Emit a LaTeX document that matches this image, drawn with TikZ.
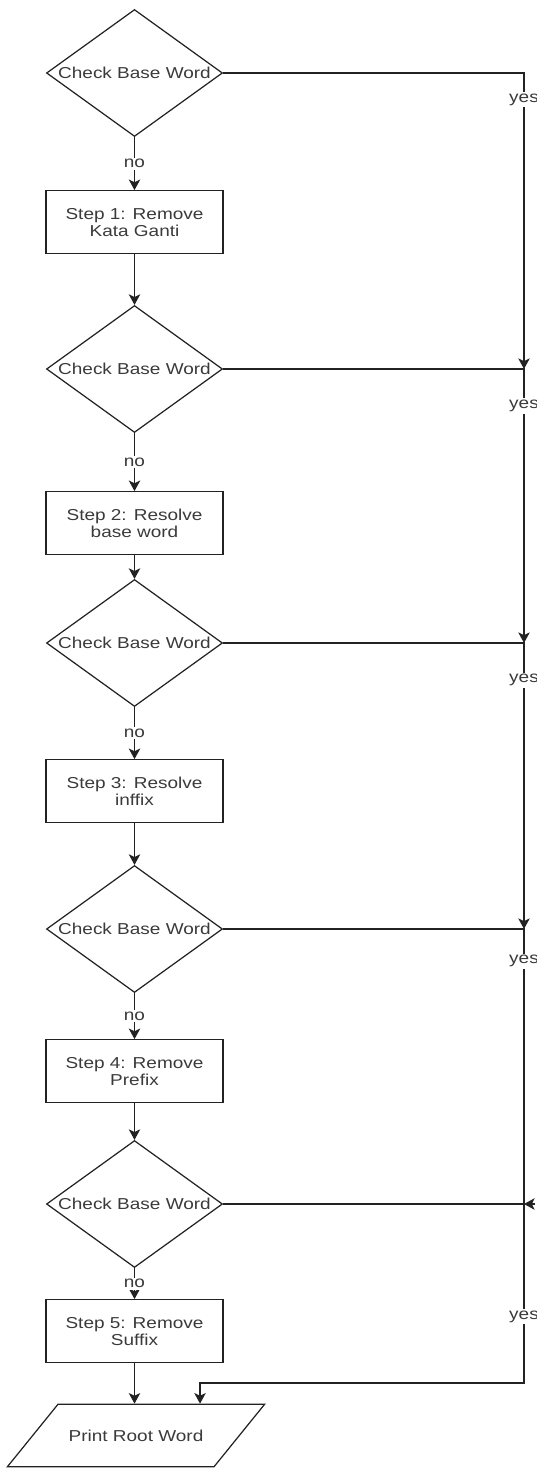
\documentclass[tikz,border=0pt]{standalone}
\usepackage{fontspec}
\setmainfont[FakeStretch=1.2]{Liberation Sans}
\usetikzlibrary{shapes.geometric, arrows.meta, positioning, calc}
\definecolor{lnclr}{HTML}{222222}
\definecolor{txclr}{HTML}{3A3A3A}
\tikzset{
  decision/.style={diamond, shape aspect=1.386, draw=lnclr, line width=0.7pt,
    inner sep=0pt, minimum width=3.52cm, minimum height=2.54cm, text=txclr,
    font=\fontsize{9}{9.6}\selectfont},
  stepbox/.style={rectangle, draw=lnclr, line width=0.7pt, align=center,
    minimum width=3.54cm, minimum height=1.26cm, text=txclr,
    font=\fontsize{9}{9.6}\selectfont},
  iobox/.style={trapezium, trapezium left angle=51, trapezium right angle=129,
    draw=lnclr, line width=0.7pt, inner xsep=0.1cm, inner ysep=0.5cm,
    text width=2.92cm, text height=0.25cm, text depth=0cm, align=center,
    text=txclr, font=\fontsize{9}{9.6}\selectfont},
  lbl/.style={fill=white, inner sep=1pt, text=txclr,
    font=\fontsize{9}{9.6}\selectfont},
  ar/.style={-{Stealth[length=6pt, width=6.5pt, inset=1.5pt]}, line width=0.7pt, lnclr},
  ln/.style={line width=0.7pt, lnclr},
}
\begin{document}
\begin{tikzpicture}
\useasboundingbox (0,0) rectangle (10.74,-29.36);

% ---- checks and steps ----
\node[decision] (d1) at (2.69,-1.46) {Check Base Word};
\node[stepbox, below=1.06cm of d1] (b1) {Step 1: Remove\\Kata Ganti};

\node[decision] (d2) at (2.69,-7.38) {Check Base Word};
\node[stepbox, below=1.16cm of d2] (b2) {Step 2: Resolve\\base word};

\node[decision] (d3) at (2.69,-12.86) {Check Base Word};
\node[stepbox, below=1.04cm of d3] (b3) {Step 3: Resolve\\inffix};

\node[decision] (d4) at (2.69,-18.58) {Check Base Word};
\node[stepbox, below=0.92cm of d4] (b4) {Step 4: Remove\\Prefix};

\node[decision] (d5) at (2.69,-24.08) {Check Base Word};
\node[stepbox, below=0.62cm of d5] (b5) {Step 5: Remove\\Suffix};

% ---- output ----
\node[iobox] (out) at (2.72,-28.71) {Print Root Word};

% ---- helper points ----
\coordinate (rx) at (10.48,0);
\coordinate (rb) at (10.48,-27.66);
\coordinate (pin) at ($(out.north)+(1.28,0)$);
\coordinate (k5) at ($(d5 -| rx)+(0.22,0)$);

% ---- no branch ----
\draw[ar] (d1) -- node[lbl]{no} (b1);
\draw[ar] (b1) -- (d2);
\draw[ar] (d2) -- node[lbl]{no} (b2);
\draw[ar] (b2) -- (d3);
\draw[ar] (d3) -- node[lbl]{no} (b3);
\draw[ar] (b3) -- (d4);
\draw[ar] (d4) -- node[lbl]{no} (b4);
\draw[ar] (b4) -- (d5);
\draw[ar] (d5) -- node[lbl]{no} (b5);
\draw[ar] (b5) -- (b5 |- out.north);

% ---- yes branch ----
\draw[ar] (d1.east) -- (d1 -| rx) -- node[lbl, pos=0.09]{yes} (d2 -| rx);
\draw[ar] (d2.east) -- (d2 -| rx) -- node[lbl, pos=0.135]{yes} (d3 -| rx);
\draw[ar] (d3.east) -- (d3 -| rx) -- node[lbl, pos=0.13]{yes} (d4 -| rx);
\draw[ln] (d4.east) -- (d4 -| rx) -- node[lbl, pos=0.117]{yes} (d5 -| rx);
\draw[ar] (k5) -- (d5 -| rx);
\draw[ar] (d5.east) -- (d5 -| rx) -- node[lbl, pos=0.63]{yes} (rb) -- (pin |- rb) -- (pin);

\end{tikzpicture}
\end{document}
